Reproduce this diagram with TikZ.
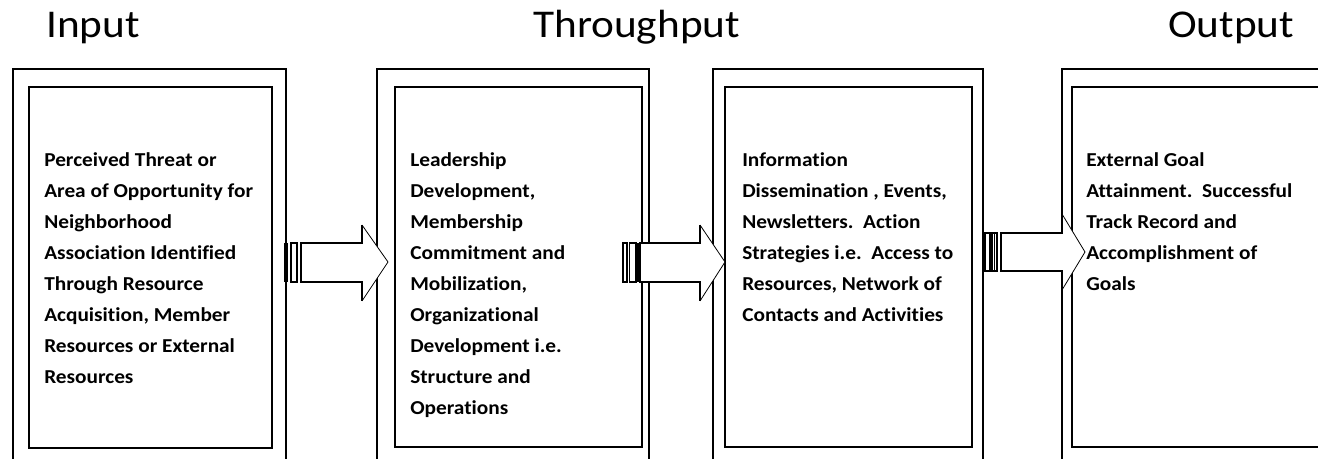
\documentclass[tikz,border=0pt]{standalone}
\usepackage{fontspec}
\setmainfont{Carlito}
\newfontfamily\titlefont[FakeStretch=1.1]{Carlito}
\newfontfamily\bodyfont[FakeStretch=1.08,Ligatures=NoCommon]{Carlito}
\begin{document}
\begin{tikzpicture}[x=0.75pt,y=-0.75pt,
  frame/.style={draw=black, line width=1.4pt},
  shaft/.style={draw=black, line width=1.2pt},
  headline/.style={draw=black, line width=0.6pt},
  stripe/.style={draw=black, line width=1pt, fill=white},
  blackstripe/.style={fill=black},
  txt/.style={anchor=base west, inner sep=0pt},
  ttl/.style={anchor=base west, inner sep=0pt, font=\titlefont\fontsize{29.5}{32}\selectfont}]
\useasboundingbox (0,0) rectangle (1318,459);
\begin{scope}
\clip (0,0) rectangle (1318,459);
% boxes
\draw[frame] (13,69) rectangle (286,480);
\draw[frame] (29,87) rectangle (272,448);
\draw[frame] (377,69) rectangle (649,480);
\draw[frame] (395,87) rectangle (642,447);
\draw[frame] (713,69) rectangle (983,480);
\draw[frame] (725,87) rectangle (972,447);
\draw[frame] (1062,69) rectangle (1340,480);
\draw[frame] (1072,87) rectangle (1340,447);
% arrow 1
\fill[white] (301,243) -- (362,243) -- (362,225) -- (388,262) -- (362,301) -- (362,282) -- (301,282) -- cycle;
\draw[shaft] (362,225) -- (362,243) -- (301,243) -- (301,282) -- (362,282) -- (362,301);
\draw[headline] (362,225) -- (388,262) -- (362,301);
\fill[blackstripe] (284,243) rectangle (288,282);
\draw[stripe] (291,243) rectangle (297,282);
% arrow 2
\fill[white] (640,243) -- (700,243) -- (700,225) -- (725,262) -- (700,301) -- (700,282) -- (640,282) -- cycle;
\draw[shaft] (700,225) -- (700,243) -- (640,243) -- (640,282) -- (700,282) -- (700,301);
\draw[headline] (700,225) -- (725,262) -- (700,301);
\draw[stripe] (623,243) rectangle (627,282);
\draw[stripe] (629.5,243) rectangle (636,282);
\fill[blackstripe] (636,243) rectangle (640,282);
% arrow 3
\fill[white] (1001,233) -- (1062,233) -- (1062,214) -- (1085,252) -- (1062,290) -- (1062,271) -- (1001,271) -- cycle;
\draw[shaft] (1062,214) -- (1062,233) -- (1001,233) -- (1001,271) -- (1062,271) -- (1062,290);
\draw[headline] (1062,214) -- (1085,252) -- (1062,290);
\draw[stripe] (985,233) rectangle (997,271);
\fill[blackstripe] (989,233) rectangle (992.5,271);
\draw[black, line width=0.8pt] (994.5,233) -- (994.5,271);
\end{scope}
% titles
\node[ttl] (tin) at (46,38) {Input};
\node[ttl] (tthr) at (533,38) {Throughput};
\node[ttl] (tout) at (1168,38) {Output};
% texts
\node[txt] (b1) at (44,167) {\parbox[t]{300pt}{\bodyfont\bfseries\fontsize{14.8}{23.25}\selectfont
Perceived Threat or\\
Area of Opportunity for\\
Neighborhood\\
Association Identified\\
Through Resource\\
Acquisition, Member\\
Resources or External\\
Resources}};
\node[txt] (b2) at (410,167) {\parbox[t]{300pt}{\bodyfont\bfseries\fontsize{14.8}{23.25}\selectfont
Leadership\\
Development,\\
Membership\\
Commitment and\\
Mobilization,\\
Organizational\\
Development i.e.\\
Structure and\\
Operations}};
\node[txt] (b3) at (742,167) {\parbox[t]{300pt}{\bodyfont\bfseries\fontsize{14.8}{23.25}\selectfont
Information\\
Dissemination , Events,\\
Newsletters.\ \ Action\\
Strategies i.e.\ \ Access to\\
Resources, Network of\\
Contacts and Activities}};
\node[txt] (b4) at (1086,167) {\parbox[t]{300pt}{\bodyfont\bfseries\fontsize{14.8}{23.25}\selectfont
External Goal\\
Attainment.\ \ Successful\\
Track Record and\\
Accomplishment of\\
Goals}};
\end{tikzpicture}
\end{document}
